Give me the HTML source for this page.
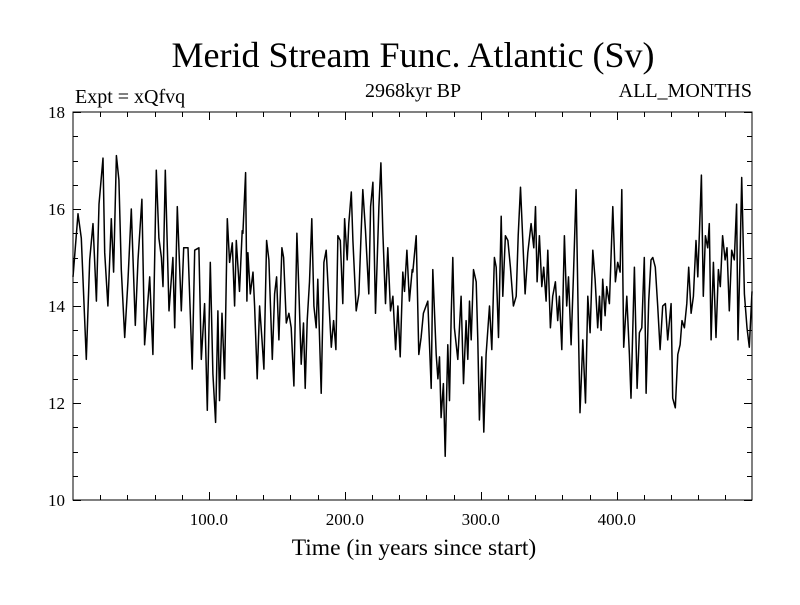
<!DOCTYPE html>
<html><head><meta charset="utf-8"><style>
body{margin:0;background:#fff}
svg text{font-family:"Liberation Serif",serif;fill:#000}
</style></head><body>
<svg id="chart" width="800" height="600">
<rect width="800" height="600" fill="#fff"/>
<text x="413" y="67" font-size="36" text-anchor="middle">Merid Stream Func. Atlantic (Sv)</text>
<text x="75" y="103" font-size="20">Expt = xQfvq</text>
<text x="413" y="97" font-size="20" text-anchor="middle">2968kyr BP</text>
<text x="752" y="97" font-size="20" text-anchor="end">ALL_MONTHS</text>
<text x="414" y="555" font-size="23.5" text-anchor="middle">Time (in years since start)</text>
<g id="axes"></g>
<path id="series" fill="none" stroke="#000" stroke-width="1.5" stroke-linejoin="round"/>
<rect x="73" y="112" width="679" height="388" fill="none" stroke="#000" stroke-width="1"/>
</svg>
<script>
const years=[0,3.7,6.1,9.8,12.3,14.7,17.2,19.1,22.1,23.3,25.7,28.2,29.9,31.9,33.8,35.5,38,40.4,42.9,45.8,47.8,50.7,52.7,56.4,58.8,61.3,63.2,65,66.2,67.9,70.6,73.5,74.8,76.7,79.7,81.4,84.6,87.7,89.5,92.6,94.4,96.8,98.8,101,102.9,104.9,106.6,107.8,109.6,111.5,113.5,115.2,117.2,118.9,120.1,122.5,124.5,
125,127,127.9,128.7,130.4,132.4,133.6,135.5,137.3,139,140.4,142.4,144.1,146.6,148.3,149.8,151.5,153.7,154.9,156.9,158.8,160.5,162.5,164.7,166.2,167.9,169.6,170.8,172.3,174,175.7,177.2,178.9,180.1,182.6,184.6,186.3,188,190,191.7,193.4,194.9,196.6,198.5,199.8,201.7,202.9,204.7,205.9,208.3,210.3,212,213.2,215.2,217.6,218.9,220.6,222.5,225,226.5,227.9,229.9,231.6,233.6,235.3,237.3,239,240.7,242.6,243.9,245.6,247.5,249.5,
250,252.5,254.4,256.1,257.8,261,263.5,264.7,267.2,268.4,269.6,270.8,272.5,273.8,275.7,277,278.2,279.4,280.6,283.1,285.5,287.3,289.2,290.4,291.7,292.9,294.6,296.6,297.8,299,300.7,302.2,303.9,306.4,308.1,310,311.3,313,315,316.2,318.1,319.9,321.8,324,326,327.5,329.2,330.9,332.6,334.6,337,339,340.2,341.4,343.1,344.9,346.3,348,349.3,351.2,352.9,354.9,356.6,357.8,359.6,361.5,363.2,364.5,366.4,368.1,370.1,371.8,373,374.5,
375,377,378.7,380.4,382.4,384.1,386,387.3,388.5,389.7,391.4,392.6,394.6,397.1,399,400.7,402.5,403.7,405.1,407.4,409.3,410.5,413,415,416.7,418.4,420.3,421.6,423.5,425.2,426.5,428.4,430.1,431.9,433.8,435.8,437.5,440,441.2,443.1,444.9,446.6,448,449.8,451.5,452.9,454.7,456.4,458.3,459.6,460.8,462.3,463.7,465.2,466.9,468.1,469.4,471.1,473,474.8,476.2,477.9,479.7,481.1,482.8,484.6,486.5,488.2,489.2,490.7,491.9,493.9,495.8,497.5,499.5];
const values=[14.6,15.9,15.4,12.9,14.95,15.7,14.1,16.1,17.05,15.1,14.0,15.8,14.7,17.1,16.6,14.75,13.35,14.5,16.0,13.6,14.95,16.2,13.2,14.6,13.0,16.8,15.4,15.0,14.4,16.8,13.9,15.0,13.55,16.05,13.9,15.2,15.2,12.7,15.15,15.2,12.9,14.05,11.85,14.9,12.6,11.6,13.9,12.05,13.85,12.5,15.8,14.9,15.3,14.0,15.35,14.3,15.55,
15.5,16.75,14.1,15.1,14.25,14.7,14.0,12.5,14.0,13.3,12.7,15.35,14.95,12.9,14.25,14.6,13.3,15.2,15.0,13.65,13.85,13.55,12.35,15.5,14.3,12.8,13.65,12.3,13.7,14.5,15.8,14.0,13.55,14.55,12.2,14.9,15.15,14.2,13.15,13.7,13.1,15.45,15.35,14.05,15.8,14.95,15.7,16.35,15.35,13.9,14.25,15.55,16.4,15.55,14.25,16.05,16.55,13.85,16.05,16.95,15.55,14.05,15.2,13.9,14.2,13.1,14.0,12.95,14.7,14.3,15.15,14.1,14.75,
14.7,15.45,13.0,13.35,13.85,14.1,12.3,14.75,13.0,12.5,12.95,11.7,12.4,10.9,13.2,12.05,13.8,15.0,13.55,12.9,14.2,12.4,13.7,12.9,14.1,13.3,14.75,14.5,13.3,11.65,12.95,11.4,13.0,14.0,13.1,15.0,14.8,13.35,15.85,14.2,15.45,15.35,14.8,14.0,14.2,15.45,16.45,15.35,14.25,15.1,15.7,15.2,16.05,14.5,15.45,14.4,14.8,14.1,15.15,13.55,14.2,14.5,13.7,14.2,13.1,15.45,14.0,14.6,13.2,14.6,16.4,13.55,11.8,12.9,
13.3,12.0,14.2,13.45,15.15,14.55,13.55,14.2,13.5,14.55,13.8,14.4,14.05,16.05,14.5,14.9,14.7,16.4,13.15,14.2,13.0,12.1,14.8,12.3,13.45,13.55,15.0,12.2,14.1,14.95,15.0,14.8,14.0,13.1,14.0,14.05,13.3,14.05,12.1,11.9,13.0,13.2,13.7,13.55,14.05,14.8,13.85,14.2,15.35,14.6,15.5,16.7,14.2,15.45,15.2,15.7,13.3,14.9,13.35,14.75,14.4,15.45,14.95,15.2,13.9,15.15,14.95,16.1,13.3,14.95,16.65,14.25,13.55,13.15,14.3];
const yTickValues=[10,12,14,16,18];
const xTickValues=[100,200,300,400];
const xTickLabels=["100.0","200.0","300.0","400.0"];

const X0=73,X1=752,Y0=500,Y1=112;
const xScale=v=>X0+(v-0)/(499.5-0)*(X1-X0);
const yScale=v=>Y0-(v-10)/(18-10)*(Y0-Y1);
const NS="http://www.w3.org/2000/svg";
const axes=document.getElementById('axes');
function line(x1,y1,x2,y2){const l=document.createElementNS(NS,'line');l.setAttribute('x1',x1);l.setAttribute('y1',y1);l.setAttribute('x2',x2);l.setAttribute('y2',y2);l.setAttribute('stroke','#000');l.setAttribute('stroke-width','1');axes.appendChild(l);return l;}
for(let v=10;v<=18.001;v+=0.5){
  const y=Math.round(yScale(v))+0.5;const major=Math.abs(v-Math.round(v/2)*2)<1e-6;const len=major?8:5;
  const a=line(X0,y,X0+len,y);
  
  
  const b=line(X1-len,y,X1,y);
  
  
}
for(let v=20;v<499;v+=20){
  const x=Math.round(xScale(v))+0.5;const major=v%100===0;const len=major?8:5;
  const a=line(x,Y0-len,x,Y0);
  
  
  const b=line(x,Y1,x,Y1+len);
  
  
}
yTickValues.forEach(v=>{
  const t=document.createElementNS(NS,'text');t.setAttribute('x',X0-8);t.setAttribute('y',yScale(v)+6);t.setAttribute('text-anchor','end');t.setAttribute('font-size','17');t.textContent=v;
  
  
  axes.appendChild(t);
});
xTickValues.forEach((v,i)=>{
  const t=document.createElementNS(NS,'text');t.setAttribute('x',xScale(v));t.setAttribute('y',Y0+25);t.setAttribute('text-anchor','middle');t.setAttribute('font-size','17');t.textContent=xTickLabels[i];
  
  
  axes.appendChild(t);
});
let d='';
years.forEach((yr,i)=>{d+=(i?'L':'M')+xScale(yr).toFixed(1)+','+yScale(values[i]).toFixed(1);});
document.getElementById('series').setAttribute('d',d);
</script>
</body></html>
